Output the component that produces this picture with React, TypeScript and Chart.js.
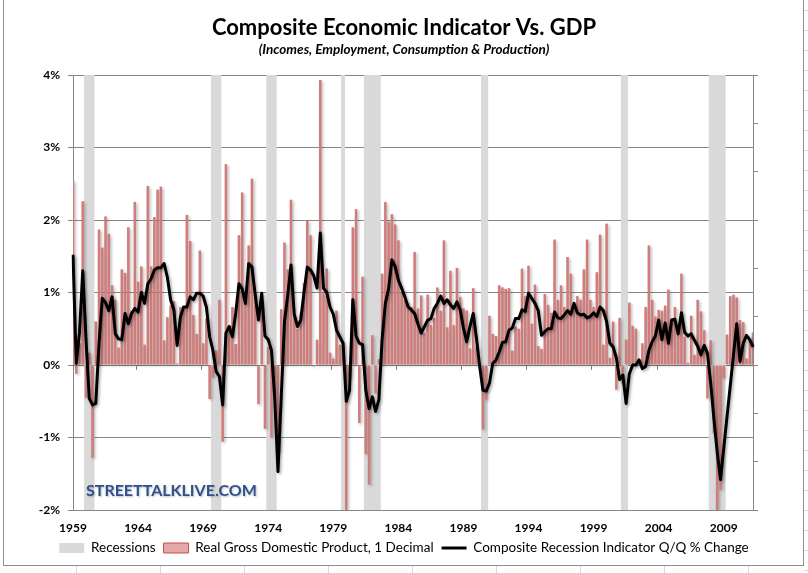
import React, { useEffect, useRef } from 'react';
import { Chart, registerables } from 'chart.js';

Chart.register(...registerables);

// ---- categories: quarters from 1959Q2 ----
const START_YEAR = 1959;
const START_QUARTER = 2;
const TICK_EVERY = 20;
const yearTicks = ['1959', '1964', '1969', '1974', '1979', '1984', '1989', '1994', '1999', '2004', '2009'];

// Real GDP, quarter over quarter % change
const gdpGrowth = [
  2.54, -0.12, 0.3, 2.26, -0.45, 0.17, -1.28, 0.6, 1.87, 1.62,
  2.05, 1.81, 1.1, 0.9, 0.24, 1.32, 1.27, 1.9, 0.75, 2.25,
  1.15, 1.36, 0.28, 2.47, 1.36, 2.04, 2.42, 2.46, 0.34, 0.66,
  0.82, 0.88, 0.02, 0.8, 0.8, 2.07, 1.71, 0.69, 0.43, 1.58,
  0.3, 0.64, -0.47, -0.17, 0.2, 0.9, -1.06, 2.77, 0.55, 0.8,
  0.29, 1.79, 2.38, 0.9, 1.65, 2.57, 1.0, -0.54, 0.9, -0.88,
  0.25, -1.0, -0.4, -1.2, 0.77, 1.69, 1.32, 2.28, 0.67, 0.5,
  0.72, 1.13, 1.99, 1.79, -0.02, 0.35, 3.93, 0.99, 1.33, 0.17,
  0.09, 0.75, 0.28, 0.3, -2.0, -0.17, 1.9, 2.15, -0.8, 1.22,
  -1.23, -1.65, 0.41, -0.39, 0.08, 1.26, 2.25, 1.98, 2.08, 1.94,
  1.72, 1.0, 0.9, 0.85, 0.8, 1.56, 0.78, 0.96, 0.44, 0.97,
  0.55, 0.65, 1.07, 0.75, 1.72, 0.52, 1.3, 0.55, 1.34, 0.94,
  0.78, 0.75, 0.23, 1.06, 0.25, 0.0, -0.89, -0.48, 0.68, 0.43,
  0.4, 1.1, 1.07, 1.05, 1.06, 0.2, 0.53, 0.5, 1.33, 0.95,
  1.37, 0.57, 1.11, 0.26, 0.22, 0.98, 0.83, 0.72, 1.73, 0.9,
  1.1, 0.8, 1.49, 1.26, 0.85, 0.95, 0.9, 1.32, 1.73, 0.9,
  0.8, 1.28, 1.8, 0.28, 1.95, 0.1, 0.6, -0.34, 0.65, -0.27,
  0.35, 0.86, 0.54, 0.5, 0.03, 0.3, 0.8, 1.65, 0.9, 0.67,
  0.76, 0.75, 0.82, 1.04, 0.64, 0.8, 0.44, 1.26, 0.39, 0.03,
  0.68, 0.14, 0.9, 0.74, 0.48, -0.46, 0.34, -0.94, -2.2, -1.72,
  -0.18, 0.42, 0.95, 0.97, 0.93, 0.62, 0.59, 0.09, 0.33, 0.45,
];

// Composite recession indicator, Q/Q % change
const compositeIndicator = [
  1.52, 0.02, 0.45, 1.3, 0.35, -0.46, -0.55, -0.53, 0.3, 0.92,
  0.86, 0.75, 0.94, 0.43, 0.36, 0.35, 0.71, 0.57, 0.71, 0.78,
  0.73, 1.0, 0.85, 1.12, 1.19, 1.31, 1.34, 1.34, 1.4, 1.21,
  0.9, 0.76, 0.27, 0.66, 0.8, 0.8, 0.94, 0.9, 0.99, 0.99,
  0.95, 0.8, 0.39, 0.2, -0.09, -0.16, -0.55, 0.44, 0.53, 0.39,
  0.71, 1.12, 1.05, 0.85, 1.4, 1.35, 0.97, 0.62, 0.99, 0.4,
  0.35, 0.2, -0.45, -1.47, -0.45, 0.6, 0.96, 1.38, 0.7, 0.53,
  0.62, 1.0, 1.35, 1.31, 1.23, 1.06, 1.82, 1.06, 1.0, 0.8,
  0.7, 0.48, 0.39, 0.3, -0.5, -0.35, 0.9, 0.4, 0.3, 0.28,
  -0.35, -0.6, -0.44, -0.64, -0.48, 0.35, 0.85, 1.05, 1.45, 1.36,
  1.17, 1.06, 0.94, 0.8, 0.76, 0.71, 0.57, 0.44, 0.53, 0.62,
  0.64, 0.78, 0.85, 0.95, 0.85, 0.9, 0.83, 0.78, 0.87, 0.76,
  0.51, 0.32, 0.53, 0.71, 0.37, -0.02, -0.35, -0.36, -0.25, 0.02,
  0.07, 0.18, 0.31, 0.32, 0.48, 0.51, 0.64, 0.64, 0.76, 0.74,
  0.99, 0.92, 0.85, 0.75, 0.41, 0.46, 0.5, 0.5, 0.73, 0.65,
  0.64, 0.69, 0.75, 0.7, 0.85, 0.72, 0.69, 0.7, 0.65, 0.67,
  0.72, 0.67, 0.8, 0.75, 0.6, 0.3, 0.25, 0.1, -0.2, -0.14,
  -0.53, -0.12, 0.0, 0.0, 0.07, -0.05, -0.02, 0.2, 0.32, 0.4,
  0.62, 0.35, 0.58, 0.3, 0.62, 0.63, 0.43, 0.72, 0.45, 0.4,
  0.43, 0.34, 0.26, 0.14, 0.27, 0.16, -0.25, -0.75, -1.2, -1.58,
  -1.15, -0.72, -0.29, 0.14, 0.57, 0.05, 0.3, 0.41, 0.35, 0.25,
];

// Recession shading spans (first quarter, last quarter), as drawn
const recessionSpans: [string, string][] = [
  ['1960Q2', '1960Q4'],
  ['1970Q1', '1970Q3'],
  ['1974Q2', '1974Q4'],
  ['1980Q1', '1980Q1'],
  ['1981Q4', '1982Q4'],
  ['1990Q4', '1991Q1'],
  ['2001Q3', '2001Q4'],
  ['2008Q2', '2009Q2'],
];

const Y_MIN = -2;
const Y_MAX = 4;

const TITLE = 'Composite Economic Indicator Vs. GDP';
const SUBTITLE = '(Incomes, Employment, Consumption & Production)';
const WATERMARK = 'STREETTALKLIVE.COM';
const LEGEND_RECESSION = 'Recessions';
const LEGEND_GDP = 'Real Gross Domestic Product, 1 Decimal';
const LEGEND_LINE = 'Composite Recession Indicator Q/Q % Change';

const GRID = '#868686';
const FONT = 'Lato';

const quarterLabels = gdpGrowth.map((_, i) => {
  const n = START_QUARTER - 1 + i;
  return `${START_YEAR + Math.floor(n / 4)}Q${(n % 4) + 1}`;
});

const recessionData = quarterLabels.map((lab) => {
  const inside = recessionSpans.some(([a, b]) => lab >= a && lab <= b);
  return inside ? [Y_MIN, Y_MAX] : null;
});

const framePlugin = {
  id: 'frame',
  beforeDraw(chart: any) {
    const { ctx, width, height } = chart;
    ctx.save();
    ctx.fillStyle = '#ffffff';
    ctx.fillRect(0, 0, width, height);
    ctx.strokeStyle = '#d6d8da';
    ctx.lineWidth = 1;
    for (let y = 10.5; y < height; y += 20) {
      ctx.beginPath();
      ctx.moveTo(804, y);
      ctx.lineTo(width, y);
      ctx.stroke();
    }
    for (let x = 76.5; x < width; x += 84) {
      ctx.beginPath();
      ctx.moveTo(x, 566);
      ctx.lineTo(x, height);
      ctx.stroke();
    }
    ctx.strokeStyle = '#8e8e8e';
    ctx.strokeRect(3.5, -1.5, 800, 567);
    ctx.restore();
  },
};

const shadowPlugin = {
  id: 'softShadow',
  beforeDatasetDraw(chart: any, args: any) {
    if (args.index === 0) return;
    const ctx = chart.ctx;
    ctx.save();
    ctx.shadowColor = args.index === 2 ? 'rgba(0,0,0,0.35)' : 'rgba(0,0,0,0.28)';
    ctx.shadowBlur = 3;
    ctx.shadowOffsetX = 1.5;
    ctx.shadowOffsetY = 1.5;
  },
  afterDatasetDraw(chart: any, args: any) {
    if (args.index === 0) return;
    chart.ctx.restore();
  },
};

const watermarkPlugin = {
  id: 'watermark',
  afterDatasetsDraw(chart: any) {
    const { ctx, chartArea } = chart;
    ctx.save();
    ctx.font = `bold 16px ${FONT}`;
    ctx.fillStyle = '#2e5090';
    ctx.textBaseline = 'middle';
    ctx.shadowColor = 'rgba(0,0,0,0.25)';
    ctx.shadowBlur = 2;
    ctx.shadowOffsetX = 1;
    ctx.shadowOffsetY = 1;
    ctx.fillText(WATERMARK, chartArea.left + 13, chartArea.bottom - 19);
    ctx.restore();
  },
};

export default function App() {
  const canvasRef = useRef<HTMLCanvasElement | null>(null);

  useEffect(() => {
    document.body.style.margin = '0';
    const canvas = canvasRef.current;
    if (!canvas) return;
    const tickFont = { family: FONT, size: 12, weight: 'bold' as const };

    const chart = new Chart(canvas, {
      type: 'bar',
      data: {
        labels: quarterLabels,
        datasets: [
          {
            type: 'bar',
            label: LEGEND_RECESSION,
            data: recessionData as any,
            backgroundColor: '#d9d9d9',
            borderWidth: 0,
            barPercentage: 1,
            categoryPercentage: 1,
            grouped: false,
            order: 3,
            pointStyle: 'rect',
            xAxisID: 'x',
            yAxisID: 'y',
          } as any,
          {
            type: 'bar',
            label: LEGEND_GDP,
            data: gdpGrowth,
            backgroundColor: '#cf7c7a',
            borderWidth: 0,
            barPercentage: 0.78,
            categoryPercentage: 1,
            grouped: false,
            order: 2,
            pointStyle: 'rect',
            xAxisID: 'x',
            yAxisID: 'y',
          } as any,
          {
            type: 'line',
            label: LEGEND_LINE,
            data: compositeIndicator,
            borderColor: '#000000',
            backgroundColor: '#000000',
            borderWidth: 3,
            pointRadius: 0,
            pointHoverRadius: 0,
            pointStyle: 'line',
            tension: 0,
            fill: false,
            borderJoinStyle: 'round',
            order: 1,
            xAxisID: 'x',
            yAxisID: 'y',
          } as any,
        ],
      },
      options: {
        responsive: false,
        animation: false,
        devicePixelRatio: 1,
        layout: { padding: { left: 0, right: 0, top: 0, bottom: 8.25 } },
        plugins: {
          title: {
            display: true,
            text: TITLE,
            color: '#000',
            font: { family: FONT, size: 22, weight: 'bold' },
            padding: { top: 14.8, bottom: 0.7 },
          },
          subtitle: {
            display: true,
            text: SUBTITLE,
            color: '#000',
            font: { family: FONT, size: 13.5, weight: 'bold', style: 'italic' },
            padding: { top: 0, bottom: 16.9 },
          },
          legend: {
            display: true,
            position: 'bottom',
            labels: {
              usePointStyle: true,
              pointStyleWidth: 25,
              boxHeight: 10,
              padding: 8,
              color: '#000',
              font: { family: FONT, size: 13.5 },
              sort: (a: any, b: any) => a.datasetIndex - b.datasetIndex,
              generateLabels: (c: any) => {
                const items = (Chart.defaults.plugins.legend.labels as any).generateLabels(c);
                items.forEach((it: any) => {
                  if (it.datasetIndex === 1) {
                    it.fillStyle = '#e3a9a7';
                    it.strokeStyle = '#c0504d';
                    it.lineWidth = 1;
                  } else if (it.datasetIndex === 0) {
                    it.lineWidth = 0;
                  }
                });
                return items;
              },
            },
          },
          tooltip: { enabled: false },
        },
        scales: {
          x: {
            type: 'category',
            position: 'bottom',
            offset: false,
            grid: { display: false, drawTicks: false },
            border: { display: true, color: GRID },
            ticks: {
              autoSkip: false,
              maxRotation: 0,
              minRotation: 0,
              padding: 11,
              color: '#000',
              font: tickFont,
              callback: (_v: any, i: number) => (i % TICK_EVERY === 0 ? yearTicks[i / TICK_EVERY] : null),
            },
            afterFit: (s: any) => {
              s.height = 23.25;
            },
          },
          x2: {
            type: 'category',
            axis: 'x',
            position: { y: 0 },
            offset: false,
            ticks: { display: false },
            grid: {
              drawOnChartArea: false,
              drawTicks: true,
              tickLength: 4,
              color: (ctx: any) => (ctx.index % TICK_EVERY === 0 ? GRID : 'rgba(0,0,0,0)'),
            },
            border: { display: true, color: GRID },
          } as any,
          y: {
            type: 'linear',
            position: 'left',
            min: Y_MIN,
            max: Y_MAX,
            ticks: {
              stepSize: 1,
              padding: 8,
              color: '#000',
              font: tickFont,
              callback: (v: any) => `${v}%`,
            },
            grid: { color: GRID, drawTicks: true, tickLength: 5 },
            border: { display: true, color: GRID },
            afterFit: (s: any) => {
              s.width = 73;
            },
          },
          y2: {
            type: 'linear',
            position: 'right',
            min: 0,
            max: 9,
            ticks: { display: false, stepSize: 1 },
            grid: { drawOnChartArea: false, drawTicks: true, tickLength: 5, color: GRID },
            border: { display: true, color: GRID },
            afterFit: (s: any) => {
              s.width = 55;
            },
          },
        },
      } as any,
      plugins: [framePlugin, shadowPlugin, watermarkPlugin],
    });

    return () => {
      chart.destroy();
    };
  }, []);

  return (
    <div style={{ width: 808, height: 573, position: 'relative', background: '#fff' }}>
      <canvas ref={canvasRef} width={808} height={573} style={{ display: 'block' }} />
    </div>
  );
}
